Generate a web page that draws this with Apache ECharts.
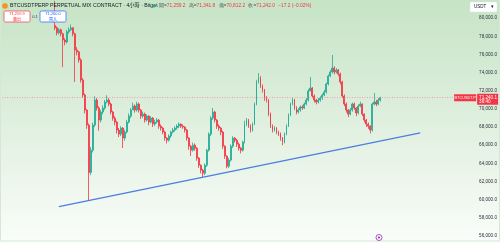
<!DOCTYPE html>
<html><head><meta charset="utf-8">
<script src="https://cdn.jsdelivr.net/npm/echarts@6/dist/echarts.min.js"></script>
<style>html,body{margin:0;padding:0;background:#fff}#c{width:500px;height:243px}</style>
</head><body><div id="c"></div>
<script>
// ---- data ----
const slotCount = 238;          // 4h slots on the time axis (incl. empty future space)
const firstCandleSlot = 26;
const opens = [79200,78930,78380,78710,78270,77600,77380,78490,78710,78930,78270,76500,76280,75400,73190,71530,69880,68220,63000,65460,
68220,70980,70100,68770,69660,70100,70760,70980,70540,69660,68990,68550,67670,67230,67890,66790,67450,68550,69210,69880,
70320,69880,70540,69880,69210,69430,68770,69210,68550,68990,68330,68550,68770,68110,67890,67450,66790,66560,67010,67450,
67670,67890,68110,68330,68110,68000,67670,66790,65900,65460,66010,65680,64580,63800,63250,62920,63800,65460,67230,68990,
69660,68770,68110,67890,67450,65900,64800,63690,64360,65900,66790,66560,66120,65680,65460,66340,68330,68770,68110,67670,
68330,70540,72970,73410,72530,72080,71200,70980,69430,68110,67670,67890,67450,67230,66790,66340,67230,68110,69320,70540,
70980,70100,69660,69880,70210,70100,70540,70980,71970,72310,71420,70980,70760,70980,71200,71530,71860,72750,73630,74070,
74510,74070,74290,73850,72970,71420,70540,69880,69430,69880,70540,70100,69550,70320,70540,69430,68770,68330,68110,67670,
70540,70760,70540,70980];
const closes = [78930,78380,78710,78270,77600,77380,78490,78710,78930,78270,76500,76280,75400,73190,71530,69880,68220,63000,65460,68220,
70980,70100,68770,69660,70100,70760,70980,70540,69660,68990,68550,67670,67230,67890,66790,67450,68550,69210,69880,70320,
69880,70540,69880,69210,69430,68770,69210,68550,68990,68330,68550,68770,68110,67890,67450,66790,66560,67010,67450,67670,
67890,68110,68330,68110,68000,67670,66790,65900,65460,66010,65680,64580,63800,63250,62920,63800,65460,67230,68990,69660,
68770,68110,67890,67450,65900,64800,63690,64360,65900,66790,66560,66120,65680,65460,66340,68330,68770,68110,67670,68330,
70540,72970,73410,72530,72080,71200,70980,69430,68110,67670,67890,67450,67230,66790,66340,67230,68110,69320,70540,70980,
70100,69660,69880,70210,70100,70540,70980,71970,72310,71420,70980,70760,70980,71200,71530,71860,72750,73630,74070,74510,
74070,74290,73850,72970,71420,70540,69880,69430,69880,70540,70100,69550,70320,70540,69430,68770,68330,68110,67670,70540,
70760,70540,70980,71240];
const highs = [81900,79100,78900,78850,78400,77800,78700,79000,79300,79000,78400,76800,76400,75600,73400,71700,70000,68400,65800,68500,
71400,71200,70300,69900,70400,71000,71500,71200,70700,69800,69200,68700,67900,68100,68000,67700,68800,69500,70100,70700,
70500,70800,70700,70000,69700,69600,69400,69300,69200,69100,68800,69000,68900,68300,68000,67600,66900,67200,67600,67900,
68100,68300,68500,68400,68300,68100,67800,66900,66000,66300,66200,65800,64700,63900,63400,64000,65600,67400,69200,70100,
69800,68900,68300,68000,67600,66000,64900,64600,66100,67000,66900,66700,66300,65800,66500,68700,69000,68900,68300,68500,
70700,73200,73950,73600,72700,72200,71400,71100,69600,68300,68100,68000,67600,67400,66900,67400,68300,69500,70700,71200,
71100,70300,70100,70400,70400,70700,71200,72200,73500,72400,71600,71100,71200,71400,71700,72100,72900,73800,74300,75950,
74700,74500,74400,74000,73100,71600,70700,70000,70100,70700,70700,70200,70500,70800,70600,69500,68900,68500,68200,70700,
71750,71000,71200,71340];
const lows = [78700,78100,78200,78000,74600,77000,77200,78300,78600,78000,72970,75900,75100,72900,71200,69500,67800,59950,62700,65200,
68000,69800,67600,68500,69400,69900,70600,70300,69400,68700,68200,67300,66900,67000,65700,66500,67300,68400,69000,70000,
69600,69700,69600,68900,69000,68500,68600,68200,68400,68000,68100,68400,67800,67600,67200,66500,66200,66400,66800,67300,
67500,67700,67900,67900,67800,67400,66500,65500,64800,65300,65400,64300,63500,62900,62480,62700,63600,65300,67000,68800,
68500,67800,67600,67100,65600,64500,63450,63500,64200,65700,66300,65800,65400,65100,65300,66200,68100,67900,67400,67500,
68200,70400,72800,72300,71800,70900,70700,69200,67900,67400,67500,67200,67000,66500,66000,66200,67100,68000,69200,70400,
69900,69400,69500,69700,69900,70000,70400,70800,72000,71200,70700,70500,70600,70800,71000,71400,71700,72600,73500,73900,
73800,73900,73600,72700,71200,70300,69600,69100,69300,69700,69900,69200,69400,70200,69200,68500,68000,67800,67300,67500,
70400,70300,70400,70810];
const trendSlots = [28, 209];
const trendPrices = [59230, 67350];
const lastPrice = 71240.1;
const yMin = 56000, yMax = 82000, yStep = 2000;

const candleData = closes.map((c, i) => [firstCandleSlot + i, opens[i], c, lows[i], highs[i]]);
const cats = Array.from({length: slotCount}, (_, i) => String(i));
const fmt = v => v.toLocaleString('en-US', {minimumFractionDigits: 1, maximumFractionDigits: 1});

const chart = echarts.init(document.getElementById('c'), null, {renderer: 'canvas'});
const UP = '#22ab94', DOWN = '#f23645';
const bg = new echarts.graphic.LinearGradient(0, 0, 0, 1, [
  {offset: 0, color: '#c6e4c6'}, {offset: 0.45, color: '#ddeedc'}, {offset: 1, color: '#fafdfa'}]);

const option = {
  animation: false,
  grid: {left: 2, right: 22, top: 0, bottom: 7},
  xAxis: {type: 'category', data: cats, boundaryGap: true, show: false},
  yAxis: {
    type: 'value', position: 'right', min: yMin, max: yMax, interval: yStep, scale: true,
    axisLine: {show: false}, axisTick: {show: false}, splitLine: {show: false},
    axisLabel: {fontSize: 4.6, color: '#2a2e39', margin: 2, fontFamily: 'Liberation Sans, Arial',
      formatter: v => (v === yMax ? '' : fmt(v))}
  },
  graphic: [
    {type: 'rect', z: -10, silent: true, shape: {x: 0, y: 0, width: 500, height: 243}, style: {fill: bg}},
    {type: 'rect', z: 50, silent: true, shape: {x: 0.5, y: -1, width: 499, height: 242}, style: {fill: 'none', stroke: '#d8e6d8', lineWidth: 1}},
    {type: 'circle', z: 50, shape: {cx: 5, cy: 6, r: 2.8}, style: {fill: '#f7931a'}},
    {type: 'text', z: 50, x: 10, y: 6, style: {text: 'BTCUSDTPERP PERPETUAL MIX CONTRACT · 4小時 · Bitget', fontSize: 5.2,
      fill: '#131722', verticalAlign: 'middle', fontFamily: 'Liberation Sans, Noto Sans CJK TC'}},
    {type: 'circle', z: 50, shape: {cx: 154, cy: 6, r: 1.6}, style: {fill: UP}},
    {type: 'text', z: 50, x: 159, y: 6, style: {
      text: '{k|開=}{v|71,259.2} {k|高=}{v|71,341.8} {k|低=}{v|70,812.2} {k|收=}{v|71,242.0} {v|−17.2 (−0.02%)}',
      verticalAlign: 'middle', fontFamily: 'Liberation Sans, Noto Sans CJK TC',
      rich: {k: {fontSize: 4.8, fill: '#555'}, v: {fontSize: 4.8, fill: DOWN}}}},
    {type: 'rect', z: 50, shape: {x: 4, y: 11, width: 26, height: 11, r: 1.5}, style: {fill: '#fff', stroke: DOWN, lineWidth: 0.7}},
    {type: 'text', z: 51, x: 17, y: 14, style: {text: '71,259.9', fontSize: 4, fill: DOWN, align: 'center', verticalAlign: 'middle'}},
    {type: 'text', z: 51, x: 17, y: 19, style: {text: '賣出', fontSize: 4, fill: DOWN, align: 'center', verticalAlign: 'middle', fontFamily: 'Noto Sans CJK TC'}},
    {type: 'text', z: 51, x: 35, y: 16.5, style: {text: '0.1', fontSize: 4, fill: '#333', align: 'center', verticalAlign: 'middle'}},
    {type: 'rect', z: 50, shape: {x: 40, y: 11, width: 26, height: 11, r: 1.5}, style: {fill: '#fff', stroke: '#2962ff', lineWidth: 0.7}},
    {type: 'text', z: 51, x: 53, y: 14, style: {text: '71,260.0', fontSize: 4, fill: '#2962ff', align: 'center', verticalAlign: 'middle'}},
    {type: 'text', z: 51, x: 53, y: 19, style: {text: '買入', fontSize: 4, fill: '#2962ff', align: 'center', verticalAlign: 'middle', fontFamily: 'Noto Sans CJK TC'}},
    {type: 'rect', z: 50, shape: {x: 470, y: 2, width: 27, height: 10, r: 1}, style: {fill: '#fff', stroke: '#e0e3eb', lineWidth: 0.5}},
    {type: 'text', z: 51, x: 474, y: 7, style: {text: 'USDT', fontSize: 4.5, fill: '#131722', verticalAlign: 'middle'}},
    {type: 'text', z: 51, x: 491, y: 7, style: {text: '▾', fontSize: 4.5, fill: '#131722', verticalAlign: 'middle'}},
    {type: 'circle', z: 50, shape: {cx: 379, cy: 237.5, r: 3}, style: {fill: '#fff', stroke: '#9c27b0', lineWidth: 0.8}},
    {type: 'circle', z: 51, shape: {cx: 379, cy: 237.5, r: 1.1}, style: {fill: '#9c27b0'}}
  ],
  series: [
    {
      type: 'candlestick', data: candleData, encode: {x: 0, y: [1, 2, 3, 4]},
      barWidth: 1.4,
      itemStyle: {color: UP, color0: DOWN, borderColor: UP, borderColor0: DOWN, borderWidth: 0.8},
      markLine: {silent: true, symbol: 'none', label: {show: false},
        lineStyle: {color: '#f0868f', type: [1, 1.5], width: 0.7},
        data: [{yAxis: lastPrice}]}
    },
    {
      type: 'line', data: trendSlots.map((s, i) => [s, trendPrices[i]]), symbol: 'none',
      lineStyle: {color: '#4a7ee0', width: 1.3}, z: 5
    }
  ]
};
chart.setOption(option);

// price tags on the price scale, positioned from the axis scale
const py = chart.convertToPixel({yAxisIndex: 0}, lastPrice);
const gx = chart.convertToPixel({xAxisIndex: 0}, String(slotCount - 1)) + 1;
chart.setOption({graphic: option.graphic.concat([
  {type: 'rect', z: 60, shape: {x: gx - 23, y: py - 3.5, width: 22, height: 7, r: 0.5}, style: {fill: DOWN}},
  {type: 'text', z: 61, x: gx - 12, y: py, style: {text: 'BTCUSDT.P', fontSize: 3.8, fill: '#fff', align: 'center', verticalAlign: 'middle'}},
  {type: 'rect', z: 60, shape: {x: gx, y: py - 4, width: 21, height: 11, r: 0.5}, style: {fill: DOWN}},
  {type: 'text', z: 61, x: gx + 2, y: py, style: {text: fmt(lastPrice), fontSize: 4.6, fill: '#fff', verticalAlign: 'middle'}},
  {type: 'text', z: 61, x: gx + 2, y: py + 4.5, style: {text: '36:40', fontSize: 4.6, fill: '#fff', verticalAlign: 'middle'}}
])});
</script></body></html>
